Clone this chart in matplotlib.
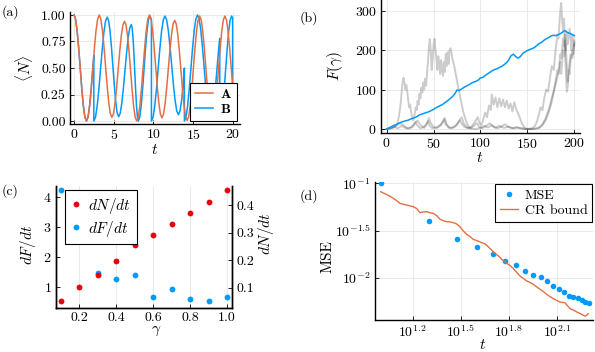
import numpy as np
import matplotlib
matplotlib.use("Agg")
import matplotlib.pyplot as plt
from matplotlib.ticker import FixedLocator, FixedFormatter, NullLocator, StrMethodFormatter

plt.rcParams.update({
    "font.family": "serif", "font.serif": ["cmr10"], "mathtext.fontset": "cm",
    "axes.unicode_minus": False, "font.size": 10,
    "axes.formatter.use_mathtext": True,
})

# ---------------- data: panel (a) ----------------
a_t = [0, .196, .393, .589, .785, .981, 1.178, 1.374,
       1.57, 1.771, 1.973, 2.174, 2.375, 2.576, 2.778, 2.979,
       3.18, 3.379, 3.578, 3.776, 3.975, 4.174, 4.373, 4.571,
       4.77, 4.969, 5.168, 5.366, 5.565, 5.764, 5.963, 6.161,
       6.36, 6.553, 6.745, 6.938, 7.13, 7.323, 7.515, 7.708,
       7.9, 8.1, 8.3, 8.5, 8.7, 8.9, 9.1, 9.3,
       9.5, 9.696, 9.893, 10.089, 10.285, 10.481, 10.678, 10.874,
       11.07, 11.271, 11.473, 11.674, 11.875, 12.076, 12.278, 12.479,
       12.68, 12.876, 13.073, 13.269, 13.465, 13.661, 13.858, 14.054,
       14.25, 14.446, 14.643, 14.839, 15.035, 15.231, 15.428, 15.624,
       15.82, 16.018, 16.215, 16.413, 16.61, 16.808, 17.005, 17.203,
       17.4, 17.6, 17.8, 18.0, 18.2, 18.4, 18.6, 18.8,
       19.0, 19.2, 19.4, 19.6, 19.8, 20.0]
a_N = [1, .962, .854, .691, .5, .309, .146, .038,
       0, .038, .146, .309, .5, .691, .854, .962,
       1.0, .963, .859, .702, .518, .333, .176, .072,
       .035, .069, .167, .315, .488, .660, .808, .906,
       .94, .904, .803, .650, .47, .290, .137, .036,
       0, .038, .146, .309, .5, .691, .854, .962,
       1.0, .963, .858, .700, .515, .330, .172, .067,
       .03, .065, .164, .314, .49, .666, .816, .915,
       .95, .914, .812, .658, .478, .297, .143, .041,
       .005, .042, .149, .309, .498, .686, .846, .953,
       .99, .952, .845, .684, .495, .306, .145, .038,
       0, .038, .145, .306, .495, .684, .845, .952,
       .99, .952, .845, .684, .495, .306]

b_t = [0, .196, .393, .589, .785, .981, 1.178, 1.374,
       1.57, 1.771, 1.973, 2.174, 2.375, 2.5, 2.5,
       2.711, 2.923, 3.134, 3.345, 3.556, 3.768, 3.979,
       4.19, 4.369, 4.548, 4.726, 4.905, 5.084, 5.263, 5.441,
       5.62, 5.82, 6.02, 6.22, 6.42, 6.62, 6.82, 7.02,
       7.22, 7.33, 7.44, 7.55, 7.66, 7.77, 7.88, 7.99,
       8.1, 8.281, 8.463, 8.644, 8.825, 9.006, 9.188, 9.369,
       9.55, 9.75, 9.75,
       9.963, 10.175, 10.388, 10.6, 10.813, 11.025, 11.238,
       11.45, 11.663, 11.875, 12.088, 12.3, 12.513, 12.725, 12.938,
       13.15, 13.35, 13.55, 13.75, 13.9, 13.9,
       14.106, 14.313, 14.519, 14.725, 14.931, 15.138, 15.344,
       15.55, 15.756, 15.963, 16.169, 16.375, 16.581, 16.788, 16.994,
       17.2, 17.406, 17.613, 17.819, 18.025, 18.231, 18.35, 18.35,
       18.538, 18.725, 18.913, 19.1, 19.288, 19.475, 19.663,
       19.85, 19.97, 19.97]
b_N = [1, .962, .854, .691, .5, .309, .146, .038,
       0, .038, .146, .309, .5, .62, 0,
       .037, .143, .303, .49, .677, .837, .943,
       .98, .944, .843, .690, .51, .330, .177, .076,
       .04, .073, .167, .309, .475, .641, .783, .877,
       .91, .875, .777, .629, .455, .281, .133, .035,
       0, .038, .145, .306, .495, .684, .845, .952,
       .99, .96, 0,
       .038, .145, .306, .495, .684, .845, .952,
       .99, .955, .854, .703, .525, .347, .196, .095,
       .06, .095, .196, .347, .5, 0,
       .038, .146, .309, .5, .691, .854, .962,
       1.0, .963, .858, .700, .515, .330, .172, .067,
       .03, .066, .170, .327, .51, .693, .78, 0,
       .038, .145, .306, .495, .684, .845, .952,
       .99, .97, 0]

# ---------------- data: panel (b) ----------------
fb_t = [0, 2.5, 5, 7.5, 10, 12.5, 15, 17.5, 20, 22.5, 25, 27.5, 30, 32.5, 35, 37.5,
        40, 42.5, 45, 47.5, 50, 52.5, 55, 57.5, 60, 62.5, 65, 67.5, 70, 72.5, 75, 77.5,
        80, 82.5, 85, 87.5, 90, 92.5, 95, 97.5, 100, 102.5, 105, 107.5, 110, 112.5, 115, 117.5,
        120, 122.5, 125, 127.5, 130, 132.5, 135, 137.5, 140, 142.5, 145, 147.5, 150, 152.5, 155, 157.5,
        160, 162.5, 165, 167.5, 170, 172.5, 175, 177.5, 180, 182.5, 185, 187.5, 190, 192.5, 195, 197.5, 200]
fb_F = [0, 3, 6, 9, 11, 14, 17, 19, 21, 22, 25, 27, 29, 32, 36, 38,
        40, 42, 44, 47, 50, 54, 57, 60, 63, 68, 72, 77, 82, 89, 99, 98,
        102, 106, 109, 112, 116, 119, 121, 124, 130, 131, 136, 140, 144, 148, 151, 153,
        156, 159, 163, 168, 175, 186, 190, 184, 180, 184, 192, 196, 199, 202, 204, 207,
        212, 217, 220, 225, 229, 232, 236, 238, 237, 239, 242, 246, 250, 245, 243, 240, 237]

g1_t = [0, 3, 6, 9, 11, 13, 15, 16, 17, 18, 19, 20, 21, 22, 23, 24, 25, 26, 27, 28, 29, 30,
        31, 32, 33, 34, 35, 36, 37, 38, 39, 40, 41, 42, 43, 44, 45, 46, 47, 48, 49, 50,
        51, 52, 53, 54, 55, 56, 57, 58, 59, 60, 61, 62, 63, 64, 65, 66, 67, 68, 69, 70,
        72, 74, 76, 78, 80, 82, 84, 86, 88, 90, 95, 100, 104, 108, 112, 116, 120, 125,
        130, 135, 140, 145, 150, 155, 160, 163, 166, 170, 173, 176, 178, 180, 182, 183,
        185, 186, 188, 189, 190, 192, 193, 194, 196, 198, 200]
g1_F = [0, 1, 3, 6, 12, 30, 65, 95, 118, 130, 118, 100, 112, 95, 72, 55, 62, 45, 30, 22, 28, 40,
        55, 48, 72, 62, 90, 78, 105, 92, 118, 100, 128, 110, 140, 170, 205, 228, 200, 150, 175, 215,
        229, 200, 180, 150, 185, 165, 140, 175, 150, 135, 170, 145, 190, 160, 195, 165, 200, 205, 195, 180,
        160, 135, 110, 85, 62, 40, 25, 12, 4, 1, 0, 3, 8, 4, 10, 4, 8, 3,
        6, 2, 4, 1, 0, 0, 1, 3, 10, 25, 45, 70, 95, 120, 150, 140,
        190, 180, 230, 210, 240, 160, 120, 150, 190, 180, 215]

g2_t = [0, 5, 10, 14, 18, 22, 26, 30, 33, 36, 40, 43, 45, 47, 50, 54, 58, 61, 63, 66, 70,
        74, 77, 80, 82, 85, 88, 91, 94, 97, 99, 101, 103, 105, 107, 109, 111, 112, 114, 116, 118,
        120, 122, 124, 126, 128, 130, 132, 134, 136, 138, 140, 142, 144, 146, 148, 150, 153, 156, 158, 160,
        162, 164, 166, 168, 170, 172, 174, 176, 178, 180, 182, 183, 185, 186, 187, 188, 189, 190, 191, 192,
        193, 194, 195, 196, 198, 199, 200]
g2_F = [0, 3, 8, 15, 10, 2, 5, 15, 22, 10, 3, 12, 28, 15, 5, 3, 10, 25, 12, 4, 2,
        8, 20, 30, 15, 5, 3, 8, 18, 30, 15, 10, 25, 42, 30, 60, 48, 88, 62, 80, 55,
        78, 58, 75, 55, 72, 52, 65, 45, 68, 50, 40, 28, 15, 6, 2, 0, 1, 4, 8, 18,
        35, 55, 48, 80, 100, 95, 130, 160, 150, 200, 240, 230, 300, 320, 275, 250, 280, 200, 140, 95,
        110, 150, 140, 175, 200, 190, 225]

g3_t = [0, 4, 8, 12, 16, 20, 24, 28, 31, 33, 36, 40, 44, 46, 49, 53, 57, 60, 62, 64, 67,
        71, 75, 78, 80, 83, 87, 90, 93, 96, 99, 102, 106, 110, 114, 118, 122, 126, 130, 134, 138,
        142, 146, 150, 155, 160, 163, 166, 169, 172, 174, 176, 178, 180, 182, 184, 185, 186, 188, 189, 190,
        191, 192, 193, 195, 196, 197, 198, 199, 200]
g3_F = [0, 2, 5, 2, 8, 3, 1, 6, 18, 8, 2, 6, 20, 8, 2, 4, 10, 18, 28, 12, 3,
        5, 12, 22, 14, 5, 2, 3, 8, 15, 5, 2, 8, 15, 5, 2, 6, 12, 5, 2, 5,
        2, 1, 0, 0, 2, 5, 12, 25, 45, 60, 80, 95, 115, 135, 150, 170, 140, 200, 185, 225,
        200, 245, 215, 255, 230, 200, 240, 210, 220]

# ---------------- data: panel (c) ----------------
gamma = [0.1, 0.2, 0.3, 0.4, 0.5, 0.6, 0.7, 0.8, 0.9, 1.0]
dNdt = [0.051, 0.104, 0.147, 0.197, 0.255, 0.291, 0.333, 0.373, 0.412, 0.457]
dFdt = [4.23, 2.73, 1.48, 1.28, 1.39, 0.67, 0.92, 0.59, 0.53, 0.68]

# ---------------- data: panel (d) ----------------
mse_t = [10, 20, 30, 40, 50, 60, 70, 80, 90, 100, 110, 120, 130, 140, 150, 160, 170, 180, 190, 200]
mse = [0.1, 0.0398, 0.0257, 0.0212, 0.0178, 0.0150, 0.0137, 0.0119, 0.0108, 0.0101,
       0.00912, 0.00825, 0.00760, 0.00700, 0.00645, 0.00627, 0.00605, 0.00575, 0.00557, 0.00540]
cr_t = [10, 10.7, 11.3, 12.0, 12.6, 13.2, 13.8, 14.5, 15.2, 16.0, 16.8, 17.6, 18.5, 19.4, 20.3,
        21.3, 22.4, 23.5, 24.6, 25.9, 27.1, 28.4, 29.8, 31.3, 32.9, 34.5, 36.2, 37.9, 40.3,
        42.8, 44.9, 47.0, 49.4, 51.8, 54.4, 57.0, 59.1, 61.3, 64.3, 67.5, 70.8, 74.3, 78.0,
        81.8, 85.8, 89.9, 94.4, 99.1, 104, 109, 114.5, 120, 125.8, 131.8, 136.8, 141.9,
        147.1, 152.4, 160, 167.9, 176, 184.5, 191, 198.2]
cr = [0.0815, 0.0772, 0.0738, 0.0693, 0.0655, 0.0614, 0.0601, 0.0589, 0.0578, 0.0565, 0.0540,
      0.0489, 0.0497, 0.0501, 0.0488, 0.0481, 0.0455, 0.0416, 0.0402, 0.0393, 0.0390, 0.0383,
      0.0372, 0.0347, 0.0312, 0.0288, 0.0272, 0.0255, 0.0246, 0.0235, 0.0228, 0.0213, 0.0196,
      0.0181, 0.0170, 0.0157, 0.0150, 0.0142, 0.0135, 0.0125, 0.0114, 0.0104, 0.0098, 0.00923,
      0.00890, 0.00851, 0.00800, 0.00753, 0.00712, 0.00667, 0.00630, 0.0060, 0.00575, 0.00553,
      0.00548, 0.00543, 0.00505, 0.0047, 0.00455, 0.00434, 0.00418, 0.0040, 0.00392, 0.00416]

BLUE = "#009AFA"
ORANGE = "#E26F46"
RED = "#E8000B"
GRID = "#e6e6e6"

fig = plt.figure(figsize=(5.95, 3.52), dpi=100)
W, H = 595.0, 352.0


def add_ax(l, r, t, b):
    return fig.add_axes([l / W, 1 - b / H, (r - l) / W, (b - t) / H])


def style(ax, right=False):
    ax.spines["top"].set_visible(False)
    if not right:
        ax.spines["right"].set_visible(False)
    for s in ax.spines.values():
        s.set_linewidth(1.0)
    ax.tick_params(direction="in", length=3, width=0.6, labelsize=10, pad=3)


def leg(ax, handles=None, fs=10, hl=1.3, htp=0.5, **kw):
    extra = {} if handles is None else {"handles": handles}
    lg = ax.legend(fancybox=False, framealpha=1, edgecolor="black", fontsize=fs,
                   handlelength=hl, handletextpad=htp, borderpad=0.35, labelspacing=0.2,
                   borderaxespad=0.0, **extra, **kw)
    lg.get_frame().set_linewidth(0.8)
    return lg


# ---- (a)
ax = add_ax(70, 240, 12, 124)
style(ax)
ax.grid(True, color=GRID, lw=0.6)
ax.set_axisbelow(True)
ax.plot(a_t, a_N, color=ORANGE, lw=1.1, label=r"$\mathbf{A}$", zorder=3)
ax.plot(b_t, b_N, color=BLUE, lw=1.1, label=r"$\mathbf{B}$", zorder=2)
ax.set_xlim(-0.5, 20.9)
ax.set_ylim(-0.028, 1.028)
ax.set_xticks([0, 5, 10, 15, 20])
ax.set_yticks([0, 0.25, 0.5, 0.75, 1.0])
ax.yaxis.set_major_formatter(StrMethodFormatter("{x:.2f}"))
ax.set_ylabel(r"$\langle N\rangle$", fontsize=11, va="center")
ax.yaxis.set_label_coords(-0.27, 0.5)
ax.set_xlabel(r"$t$", fontsize=11, va="center")
ax.xaxis.set_label_coords(0.5, -0.235)
leg(ax, loc="lower right", bbox_to_anchor=(0.98, 0.025))

# ---- (b)
ax = add_ax(381, 580, -1, 133)
style(ax)
ax.grid(True, color=GRID, lw=0.6)
ax.set_axisbelow(True)
for gt, gf in [(g1_t, g1_F), (g2_t, g2_F), (g3_t, g3_F)]:
    ax.plot(gt, gf, color="black", alpha=0.2, lw=1.4)
ax.plot(fb_t, fb_F, color=BLUE, lw=1.1)
ax.set_xlim(-6, 206)
ax.set_ylim(-10, 330)
ax.set_xticks([0, 50, 100, 150, 200])
ax.set_yticks([0, 100, 200, 300])
ax.set_ylabel(r"$F(\gamma)$", fontsize=11, va="center")
ax.yaxis.set_label_coords(-0.231, 0.5)
ax.set_xlabel(r"$t$", fontsize=11, va="center")
ax.xaxis.set_label_coords(0.497, -0.185)

# ---- (c)
ax = add_ax(56, 232, 186, 308)
style(ax, right=True)
ax.grid(True, axis="x", color=GRID, lw=0.6)
ax.set_axisbelow(True)
hb, = ax.plot(gamma, dFdt, "o", color=BLUE, ms=4.2, mec="none", label=r"$dF/dt$")
ax.set_xlim(0.073, 1.027)
ax.set_ylim(0.30, 4.37)
ax.set_xticks([0.2, 0.4, 0.6, 0.8, 1.0])
ax.xaxis.set_major_formatter(StrMethodFormatter("{x:.1f}"))
ax.set_yticks([1, 2, 3, 4])
ax.set_ylabel(r"$dF/dt$", fontsize=11, va="center")
ax.yaxis.set_label_coords(-0.159, 0.516)
ax.set_xlabel(r"$\gamma$", fontsize=11, va="center")
ax.xaxis.set_label_coords(0.57, -0.19)
ax2 = ax.twinx()
ax2.spines["top"].set_visible(False)
for s in ax2.spines.values():
    s.set_linewidth(1.0)
ax2.tick_params(direction="in", length=3, width=0.6, labelsize=10, pad=3)
hr, = ax2.plot(gamma, dNdt, "o", color=RED, ms=4.2, mec="none", label=r"$dN/dt$")
ax2.set_ylim(0.027, 0.470)
ax2.set_yticks([0.1, 0.2, 0.3, 0.4])
ax2.yaxis.set_major_formatter(StrMethodFormatter("{x:.1f}"))
ax2.set_ylabel(r"$dN/dt$", fontsize=11, rotation=90, va="center")
ax2.yaxis.set_label_coords(1.195, 0.61)
leg(ax2, handles=[hr, hb], fs=11, hl=0.8, htp=0.4,
    loc="upper left", bbox_to_anchor=(0.05, 0.965))

# ---- (d)
ax = add_ax(374.7, 593, 182, 320)
style(ax)
ax.set_xscale("log")
ax.set_yscale("log")
ax.grid(True, color=GRID, lw=0.6)
ax.set_axisbelow(True)
ax.plot(mse_t, mse, "o", color=BLUE, ms=4.0, mec="none", label="MSE")
ax.plot(cr_t, cr, color=ORANGE, lw=1.0, label="CR bound")
ax.set_xlim(10 ** 0.9625, 10 ** 2.327)
ax.set_ylim(10 ** -2.448, 10 ** -0.986)
ax.xaxis.set_major_locator(FixedLocator([10 ** 1.2, 10 ** 1.5, 10 ** 1.8, 10 ** 2.1]))
ax.xaxis.set_major_formatter(FixedFormatter([r"$10^{1.2}$", r"$10^{1.5}$", r"$10^{1.8}$", r"$10^{2.1}$"]))
ax.xaxis.set_minor_locator(NullLocator())
ax.yaxis.set_major_locator(FixedLocator([10 ** -2, 10 ** -1.5, 10 ** -1]))
ax.yaxis.set_major_formatter(FixedFormatter([r"$10^{-2}$", r"$10^{-1.5}$", r"$10^{-1}$"]))
ax.yaxis.set_minor_locator(NullLocator())
ax.set_ylabel("MSE", fontsize=11, va="center")
ax.yaxis.set_label_coords(-0.218, 0.457)
ax.set_xlabel(r"$t$", fontsize=11, va="center")
ax.xaxis.set_label_coords(0.495, -0.18)
leg(ax, loc="upper right", bbox_to_anchor=(0.997, 0.985))

# panel labels
fig.text(0.002, 1 - 12.5 / H, "(a)", fontsize=10, va="center", ha="left")
fig.text(0.503, 1 - 18.5 / H, "(b)", fontsize=10, va="center", ha="left")
fig.text(0.002, 1 - 191 / H, "(c)", fontsize=10, va="center", ha="left")
fig.text(0.503, 1 - 196 / H, "(d)", fontsize=10, va="center", ha="left")

fig.savefig("out.png", dpi=100)
